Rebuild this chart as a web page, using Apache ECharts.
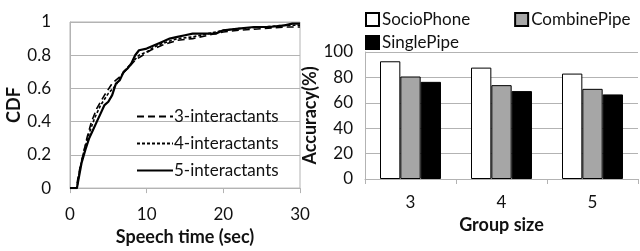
<!DOCTYPE html>
<html>
<head>
<meta charset="utf-8">
<script src="https://cdn.jsdelivr.net/npm/echarts@6/dist/echarts.min.js"></script>
<style>
html, body { margin: 0; padding: 0; background: #fff; }
#main { width: 640px; height: 251px; }
</style>
</head>
<body>
<div id="main"></div>
<script>
// CDF of speech time (sec)
var cdf3 = [[0,0],[0.8,0],[1.2,0.1],[1.7,0.2],[2.2,0.3],[2.8,0.4],[3.5,0.48],[4.5,0.56],[5.5,0.63],[6.5,0.67],[7.5,0.72],[8.5,0.77],[9.5,0.8],[10.5,0.83],[12,0.86],[14,0.89],[16,0.9],[18,0.92],[20,0.94],[22,0.95],[25,0.96],[28,0.97],[30,0.97]];
var cdf4 = [[0,0],[0.9,0],[1.3,0.12],[1.8,0.22],[2.5,0.33],[3.2,0.42],[4,0.5],[5,0.57],[6,0.62],[7,0.7],[8,0.75],[9,0.8],[10,0.82],[11,0.85],[12,0.87],[14,0.9],[16,0.91],[18,0.93],[20,0.95],[22,0.96],[25,0.97],[28,0.98],[30,0.98]];
var cdf5 = [[0,0],[0.9,0],[1.1,0.05],[1.5,0.15],[2,0.23],[2.5,0.3],[3,0.35],[3.5,0.4],[4,0.45],[4.5,0.5],[5,0.52],[5.5,0.56],[6,0.63],[6.5,0.65],[7,0.7],[7.5,0.72],[8,0.75],[8.5,0.8],[9,0.83],[10,0.84],[11,0.86],[12,0.88],[13,0.9],[14,0.91],[15,0.92],[16,0.93],[19,0.93],[20,0.95],[22,0.96],[24,0.97],[26,0.97],[28,0.98],[29,0.99],[30,0.99]];

// accuracy by group size
var groupSizes = ['3', '4', '5'];
var socioPhone = [92.7, 87.7, 83];
var combinePipe = [80.7, 73.9, 71];
var singlePipe = [76.5, 69.2, 66.6];

var font = 'Lato';
var txt = '#111';
var gridColor = '#b3b3b3';
var fs = 17;

var chart = echarts.init(document.getElementById('main'));

option = {
    animation: false,
    textStyle: { fontFamily: font, color: txt },
    grid: [
        { left: 70, right: 340, top: 22, bottom: 58, show: true, borderColor: gridColor, borderWidth: 1 },
        { left: 365, right: 2, top: 52, bottom: 72 }
    ],
    legend: [
        {
            data: ['3-interactants', '4-interactants', '5-interactants'],
            orient: 'vertical',
            left: 136, top: 108, padding: 0,
            itemStyle: { opacity: 0 },
            itemWidth: 36, itemHeight: 14, itemGap: 10,
            textStyle: { fontFamily: font, fontSize: fs, color: txt, padding: [0, 0, 0, -4] }
        },
        {
            data: ['SocioPhone', 'CombinePipe'],
            left: 365, top: 11, padding: 0, icon: 'rect',
            itemWidth: 13, itemHeight: 13, itemGap: 44,
            textStyle: { fontFamily: font, fontSize: fs, color: txt, padding: [0, 0, 0, -2] }
        },
        {
            data: ['SinglePipe'],
            left: 365, top: 34, padding: 0, icon: 'rect',
            itemWidth: 13, itemHeight: 13,
            textStyle: { fontFamily: font, fontSize: fs, color: txt, padding: [0, 0, 0, -2] }
        }
    ],
    xAxis: [
        {
            gridIndex: 0, type: 'value', min: 0, max: 30, interval: 10,
            name: 'Speech time (sec)', nameLocation: 'middle', nameGap: 36,
            nameTextStyle: { fontFamily: font, fontSize: 18, fontWeight: 'bold', color: txt },
            axisLine: { lineStyle: { color: gridColor } },
            axisTick: { show: true, length: 5, lineStyle: { color: gridColor } },
            axisLabel: { fontFamily: font, fontSize: fs, color: txt, margin: 18 },
            splitLine: { show: false }
        },
        {
            gridIndex: 1, type: 'category', data: groupSizes,
            name: 'Group size', nameLocation: 'middle', nameGap: 34,
            nameTextStyle: { fontFamily: font, fontSize: 18, fontWeight: 'bold', color: txt },
            axisLine: { lineStyle: { color: gridColor } },
            axisTick: { show: true, length: 5, lineStyle: { color: gridColor } },
            axisLabel: { fontFamily: font, fontSize: fs, color: txt, margin: 15 }
        }
    ],
    yAxis: [
        {
            gridIndex: 0, type: 'value', min: 0, max: 1, interval: 0.2,
            name: 'CDF', nameLocation: 'middle', nameGap: 46,
            nameTextStyle: { fontFamily: font, fontSize: 18, fontWeight: 'bold', color: txt },
            axisLine: { show: true, lineStyle: { color: gridColor } },
            axisTick: { show: false },
            axisLabel: { fontFamily: font, fontSize: fs, color: txt, margin: 19 },
            splitLine: { lineStyle: { color: gridColor } }
        },
        {
            gridIndex: 1, type: 'value', min: 0, max: 100, interval: 20,
            name: 'Accuracy(%)', nameLocation: 'middle', nameGap: 41,
            nameTextStyle: { fontFamily: font, fontSize: 18, fontWeight: 'bold', color: txt },
            axisLine: { show: true, lineStyle: { color: gridColor } },
            axisTick: { show: false },
            axisLabel: { fontFamily: font, fontSize: fs, color: txt, margin: 12 },
            splitLine: { lineStyle: { color: gridColor } }
        }
    ],
    series: [
        {
            name: '3-interactants', type: 'line', xAxisIndex: 0, yAxisIndex: 0,
            data: cdf3, symbol: 'none',
            itemStyle: { color: '#000' },
            lineStyle: { color: '#000', width: 1.6, type: [7, 4] }
        },
        {
            name: '4-interactants', type: 'line', xAxisIndex: 0, yAxisIndex: 0,
            data: cdf4, symbol: 'none',
            itemStyle: { color: '#000' },
            lineStyle: { color: '#000', width: 1.6, type: [3, 2] }
        },
        {
            name: '5-interactants', type: 'line', xAxisIndex: 0, yAxisIndex: 0,
            data: cdf5, symbol: 'none',
            itemStyle: { color: '#000' },
            lineStyle: { color: '#000', width: 2.2 }
        },
        {
            name: 'SocioPhone', type: 'bar', xAxisIndex: 1, yAxisIndex: 1,
            data: socioPhone, barGap: 0, barCategoryGap: '33%',
            itemStyle: { color: '#fff', borderColor: '#000', borderWidth: 1 }
        },
        {
            name: 'CombinePipe', type: 'bar', xAxisIndex: 1, yAxisIndex: 1,
            data: combinePipe, barGap: 0, barCategoryGap: '33%',
            itemStyle: { color: '#a6a6a6', borderColor: '#000', borderWidth: 1 }
        },
        {
            name: 'SinglePipe', type: 'bar', xAxisIndex: 1, yAxisIndex: 1,
            data: singlePipe, barGap: 0, barCategoryGap: '33%',
            itemStyle: { color: '#000', borderColor: '#000', borderWidth: 1 }
        }
    ]
};

chart.setOption(option);
</script>
</body>
</html>
